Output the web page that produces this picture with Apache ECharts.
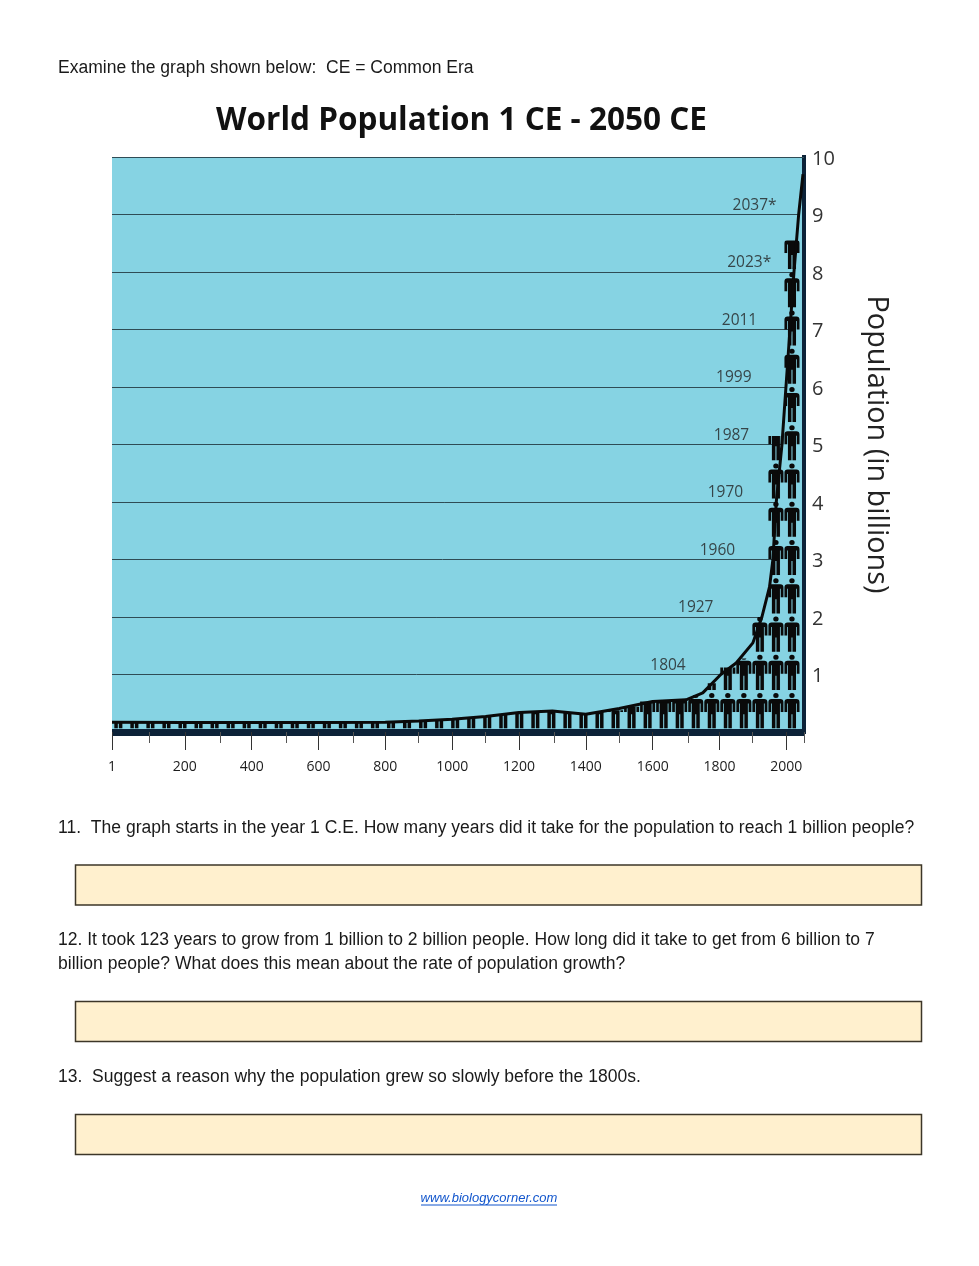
<!DOCTYPE html>
<html>
<head>
<meta charset="utf-8">
<style>html,body{margin:0;padding:0;background:#fff}#c{width:979px;height:1266px}</style>
<script src="https://cdn.jsdelivr.net/npm/echarts@6/dist/echarts.min.js"></script>
</head>
<body>
<div id="c"></div>
<script>
// The picture's axis puts its "1" tick slightly left of where a linear scale would, so it sits at this axis value.
const axisStart = -18;
const axisEnd = 2053;

const curveYears = [axisStart,200,400,600,800,900,1000,1100,1200,1300,1400,1500,1600,1700,1750,1804,1850,1900,1927,1950,1960,1970,1987,1999,2011,2023,2037,2050];
const curvePop   = [0.17,0.165,0.165,0.165,0.17,0.19,0.22,0.27,0.34,0.365,0.31,0.41,0.53,0.56,0.68,1,1.2,1.55,2,2.53,3,4,5,6,7,8,9,9.7];

const columnYears = [2017,1969,1921,1873,1825,1777,1729,1681,1633,1585,1537,1489,1441,1393,1345,1297,1249,1201,1153,1105,1057,1009,961,913,865,817,769,721,673,625,577,529,481,433,385,337,289,241,193,145,97,49,1];
const columnPop   = [8.55,5.15,2.0,1.28,1.12,0.85,0.64,0.56,0.53,0.53,0.44,0.38,0.35,0.31,0.33,0.365,0.355,0.34,0.31,0.28,0.26,0.23,0.22,0.21,0.2,0.19,0.18,0.17,0.17,0.17,0.17,0.17,0.17,0.17,0.17,0.17,0.17,0.17,0.17,0.17,0.17,0.17,0.17];

const gridValues = [1,2,3,4,5,6,7,8,9,10];
const gridEndYears = [1804,1927,1960,1970,1987,1999,2011,2023,2037,axisEnd];

const milestoneText = ['1804','1927','1960','1970','1987','1999','2011','2023*','2037*'];
const milestoneAnchorYears = [1646,1729,1794,1818,1836,1843,1860,1889,1905];
const milestoneValues = [1,2,3,4,5,6,7,8,9];

const majorTicks = [axisStart,200,400,600,800,1000,1200,1400,1600,1800,2000];
const minorTicks = [92,307,503,703,898,1099,1305,1500,1707,1898,axisEnd];

const titleText = 'World Population 1 CE - 2050 CE';
const yAxisName = 'Population (in billions)';
const pageLines = [
  ['Examine the graph shown below:  CE = Common Era', 68.5],
  ['11.  The graph starts in the year 1 C.E. How many years did it take for the population to reach 1 billion people?', 828.5],
  ['12. It took 123 years to grow from 1 billion to 2 billion people. How long did it take to get from 6 billion to 7', 940.5],
  ['billion people? What does this mean about the rate of population growth?', 964.5],
  ['13.  Suggest a reason why the population grew so slowly before the 1800s.', 1077.5]
];
const answerBoxTops = [865,1001.5,1114.5];
const linkText = 'www.biologycorner.com';

const personPath = 'path://M14 0a5 5 0 1 1 0 10a5 5 0 1 1 0-10zM6 12H22a6 6 0 0 1 6 6V38h-5V21h-1.5V70h-6.5V42h-2V70H6.5V21H5V38H0V18a6 6 0 0 1 6-6zM14 76.4L14 76.6z';

const navy = '#0c2238';
const ink = '#0a0a0a';
const axisFont = '"Open Sans"';

const chart = echarts.init(document.getElementById('c'), null, {renderer:'canvas', width:979, height:1266});

const graphics = [];
pageLines.forEach(l => graphics.push({type:'text', x:58, y:l[1], style:{text:l[0], font:'17.55px "Liberation Sans"', fill:'#1a1a1a', textVerticalAlign:'middle'}}));
answerBoxTops.forEach(t => graphics.push({type:'rect', shape:{x:75.5,y:t,width:846,height:40}, style:{fill:'#FFF0CE', stroke:'#3c3628', lineWidth:1.5}}));
graphics.push({type:'text', x:461.5, y:120.5, originX:0, scaleX:0.955, style:{text:titleText, font:'bold 33px "Open Sans"', fill:'#111', textAlign:'center', textVerticalAlign:'middle'}});
graphics.push({type:'text', x:489, y:1198, style:{text:linkText, font:'italic 13px "Liberation Sans"', fill:'#1155cc', textAlign:'center', textVerticalAlign:'middle'}});
graphics.push({type:'line', shape:{x1:421,y1:1205,x2:557,y2:1205}, style:{stroke:'#1155cc', lineWidth:1}});

chart.setOption({
  animation:false,
  backgroundColor:'#fff',
  graphic:graphics,
  grid:{left:112, right:175, top:157, bottom:534, show:true, backgroundColor:'#86D3E3', borderWidth:0},
  xAxis:[
    {type:'value', min:axisStart, max:axisEnd, position:'bottom',
     axisLine:{show:true, onZero:false, lineStyle:{color:navy, width:7, cap:'butt'}},
     axisTick:{show:true, customValues:majorTicks, length:18, lineStyle:{color:'#333', width:1}},
     axisLabel:{show:true, customValues:majorTicks, margin:28, color:'#1c1c1c', fontFamily:axisFont, fontSize:14,
       showMinLabel:true, showMaxLabel:true, hideOverlap:false,
       formatter:v => v===axisStart ? '1' : String(v)},
     splitLine:{show:false}},
    {type:'value', min:axisStart, max:axisEnd, position:'bottom',
     axisLine:{show:false},
     axisTick:{show:true, customValues:minorTicks, length:11, lineStyle:{color:'#555', width:1}},
     axisLabel:{show:false}, splitLine:{show:false}}
  ],
  yAxis:{type:'value', min:0, max:10, interval:1, position:'right',
    name:yAxisName, nameLocation:'middle', nameRotate:-90, nameGap:58,
    nameTextStyle:{color:'#222', fontFamily:axisFont, fontSize:28.8},
    axisLine:{show:true, onZero:false, lineStyle:{color:navy, width:4, cap:'square'}},
    axisTick:{show:false},
    axisLabel:{margin:8, showMinLabel:false, formatter:v=>'{n|'+v+'}',
      rich:{n:{color:'#333', fontFamily:axisFont, fontSize:20, lineHeight:24, padding:[4,0,0,0]}}},
    splitLine:{show:false}},
  series:[
    {type:'pictorialBar', name:'People', data:columnYears.map((y,i)=>[y,columnPop[i]]),
     symbol:personPath, symbolSize:[15,575/15], symbolRepeat:true, symbolMargin:0, symbolClip:true,
     symbolBoundingData:10, symbolPosition:'start', barWidth:15,
     itemStyle:{color:ink, borderColor:ink, borderWidth:0.7}, z:2, silent:true},
    {type:'line', name:'Population', data:curveYears.map((y,i)=>[y,curvePop[i]]),
     showSymbol:false, symbol:'none', smooth:false, lineStyle:{color:ink, width:3}, z:4, silent:true,
     markLine:{silent:true, symbol:'none', animation:false, z:1,
       lineStyle:{color:'#2f4c55', width:1, type:'solid'}, label:{show:false},
       data:gridValues.map((v,i)=>[{coord:[axisStart,v]},{coord:[gridEndYears[i],v]}])}},
    {type:'scatter', name:'Milestones', data:milestoneAnchorYears.map((y,i)=>[y,milestoneValues[i],milestoneText[i]]),
     symbolSize:0, z:5, silent:true,
     label:{show:true, position:'top', distance:1, formatter:p=>p.value[2], color:'#222', fontFamily:axisFont, fontSize:15.5}}
  ]
});
</script>
</body>
</html>
